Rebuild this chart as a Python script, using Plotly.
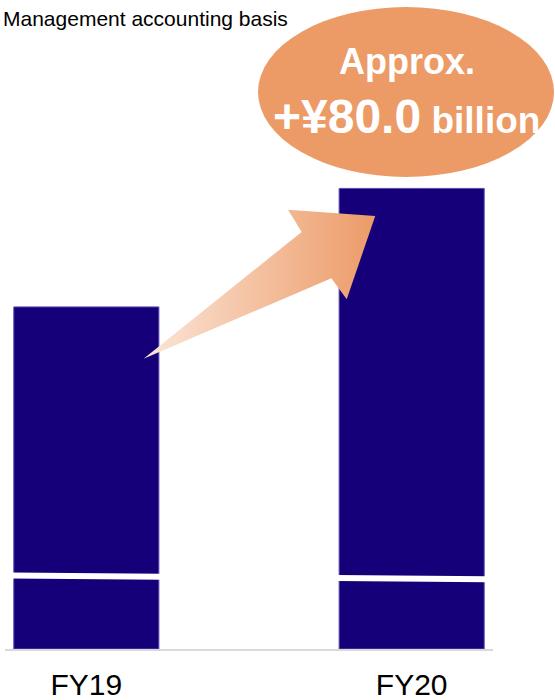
import numpy as np
import plotly.graph_objects as go

# ---- data -------------------------------------------------------------
categories = ["FY19", "FY20"]
values = [231, 311]            # bar heights (display units, axis is broken)
break_levels = [49.2, 47.5]    # where the axis-break stripe crosses each bar
increase_label = "+¥80.0"
title_text = "Management accounting basis"

# ---- geometry ---------------------------------------------------------
W, H = 555, 700
M = dict(l=5, r=62, t=27, b=51)
X_RANGE = [-0.25, 1.25]
Y_RANGE = [0, 420]
BAR_W = 0.446
NAVY = "#15007A"
ORANGE = "#EC9A66"
FONT = "Liberation Sans, Arial, sans-serif"

plot_w = W - M["l"] - M["r"]
plot_h = H - M["t"] - M["b"]
ppx = plot_w / (X_RANGE[1] - X_RANGE[0])   # pixels per x unit
ppy = plot_h / (Y_RANGE[1] - Y_RANGE[0])   # pixels per y unit
xpos = list(range(len(categories)))


def to_px(x, y):
    return np.array([(x - X_RANGE[0]) * ppx, -(y - Y_RANGE[0]) * ppy])


def to_data(p):
    return p[0] / ppx + X_RANGE[0], -p[1] / ppy + Y_RANGE[0]


fig = go.Figure()

fig.add_trace(go.Bar(
    x=xpos, y=values, width=BAR_W,
    marker=dict(color=NAVY, line=dict(color="#5B4FB0", width=1)),
    hoverinfo="skip", showlegend=False,
))

# gradient arrow from the FY19 bar top to the FY20 bar top
tail = to_px(xpos[0] + 0.176, values[0] - 35)
tip = to_px(xpos[1] - 0.112, values[1] - 18.6)
u = (tip - tail) / np.linalg.norm(tip - tail)
n = np.array([-u[1], u[0]])
if n[1] < 0:
    n = -n
pts = [
    tail,
    tip - 71 * u - 25 * n,
    tip - 71 * u - 51 * n,
    tip,
    tip - 68 * u + 56 * n,
    tip - 70 * u + 30 * n,
    tail,
]
ax_, ay_ = zip(*[to_data(p) for p in pts])
fig.add_trace(go.Scatter(
    x=list(ax_), y=list(ay_), mode="lines", fill="toself",
    line=dict(width=0, color="rgba(0,0,0,0)"),
    fillgradient=dict(type="horizontal",
                      colorscale=[[0, "#FBE6D8"], [1, "#EC9B68"]]),
    hoverinfo="skip", showlegend=False,
))

# axis-break stripes across each bar
shapes = []
for xp, lvl in zip(xpos, break_levels):
    shapes.append(dict(
        type="line", xref="x", yref="y",
        x0=xp - BAR_W / 2 - 0.01, x1=xp + BAR_W / 2 + 0.01,
        y0=lvl + 0.4, y1=lvl - 0.4,
        line=dict(color="white", width=6), layer="above",
    ))


def px_paper(px, py):
    return (px - M["l"]) / plot_w, (H - M["b"] - py) / plot_h


# callout ellipse
ex0, ey0 = px_paper(258, 177)
ex1, ey1 = px_paper(554, 7)
shapes.append(dict(type="circle", xref="paper", yref="paper",
                   x0=ex0, x1=ex1, y0=ey0, y1=ey1,
                   fillcolor=ORANGE, line=dict(width=0), layer="above"))

annotations = []
cx, cy1 = px_paper(407, 62)
annotations.append(dict(xref="paper", yref="paper", x=cx, y=cy1,
                        xanchor="center", yanchor="middle", showarrow=False,
                        text="<b>Approx.</b>",
                        font=dict(family=FONT, size=36, color="white")))
cx2, cy2 = px_paper(406, 116)
annotations.append(dict(xref="paper", yref="paper", x=cx2, y=cy2,
                        xanchor="center", yanchor="middle", showarrow=False,
                        text=f"<b><span style='font-size:48px'>{increase_label}</span> billion</b>",
                        font=dict(family=FONT, size=37, color="white")))
tx, ty = px_paper(1, 18)
annotations.append(dict(xref="paper", yref="paper", x=tx, y=ty,
                        xanchor="left", yanchor="middle", showarrow=False,
                        text=title_text,
                        font=dict(family=FONT, size=21, color="black")))

fig.update_layout(
    width=W, height=H, margin=dict(M, autoexpand=False),
    paper_bgcolor="white", plot_bgcolor="white",
    shapes=shapes, annotations=annotations,
    xaxis=dict(range=X_RANGE, tickvals=xpos, ticktext=categories,
               showgrid=False, zeroline=False, showline=True,
               linecolor="#D9D9D9", linewidth=2, ticks="",
               ticklabelstandoff=8, automargin=False,
               tickfont=dict(family=FONT, size=30, color="black"),
               fixedrange=True),
    yaxis=dict(range=Y_RANGE, visible=False, fixedrange=True,
               automargin=False),
    showlegend=False,
)

fig.write_html("out.html")
